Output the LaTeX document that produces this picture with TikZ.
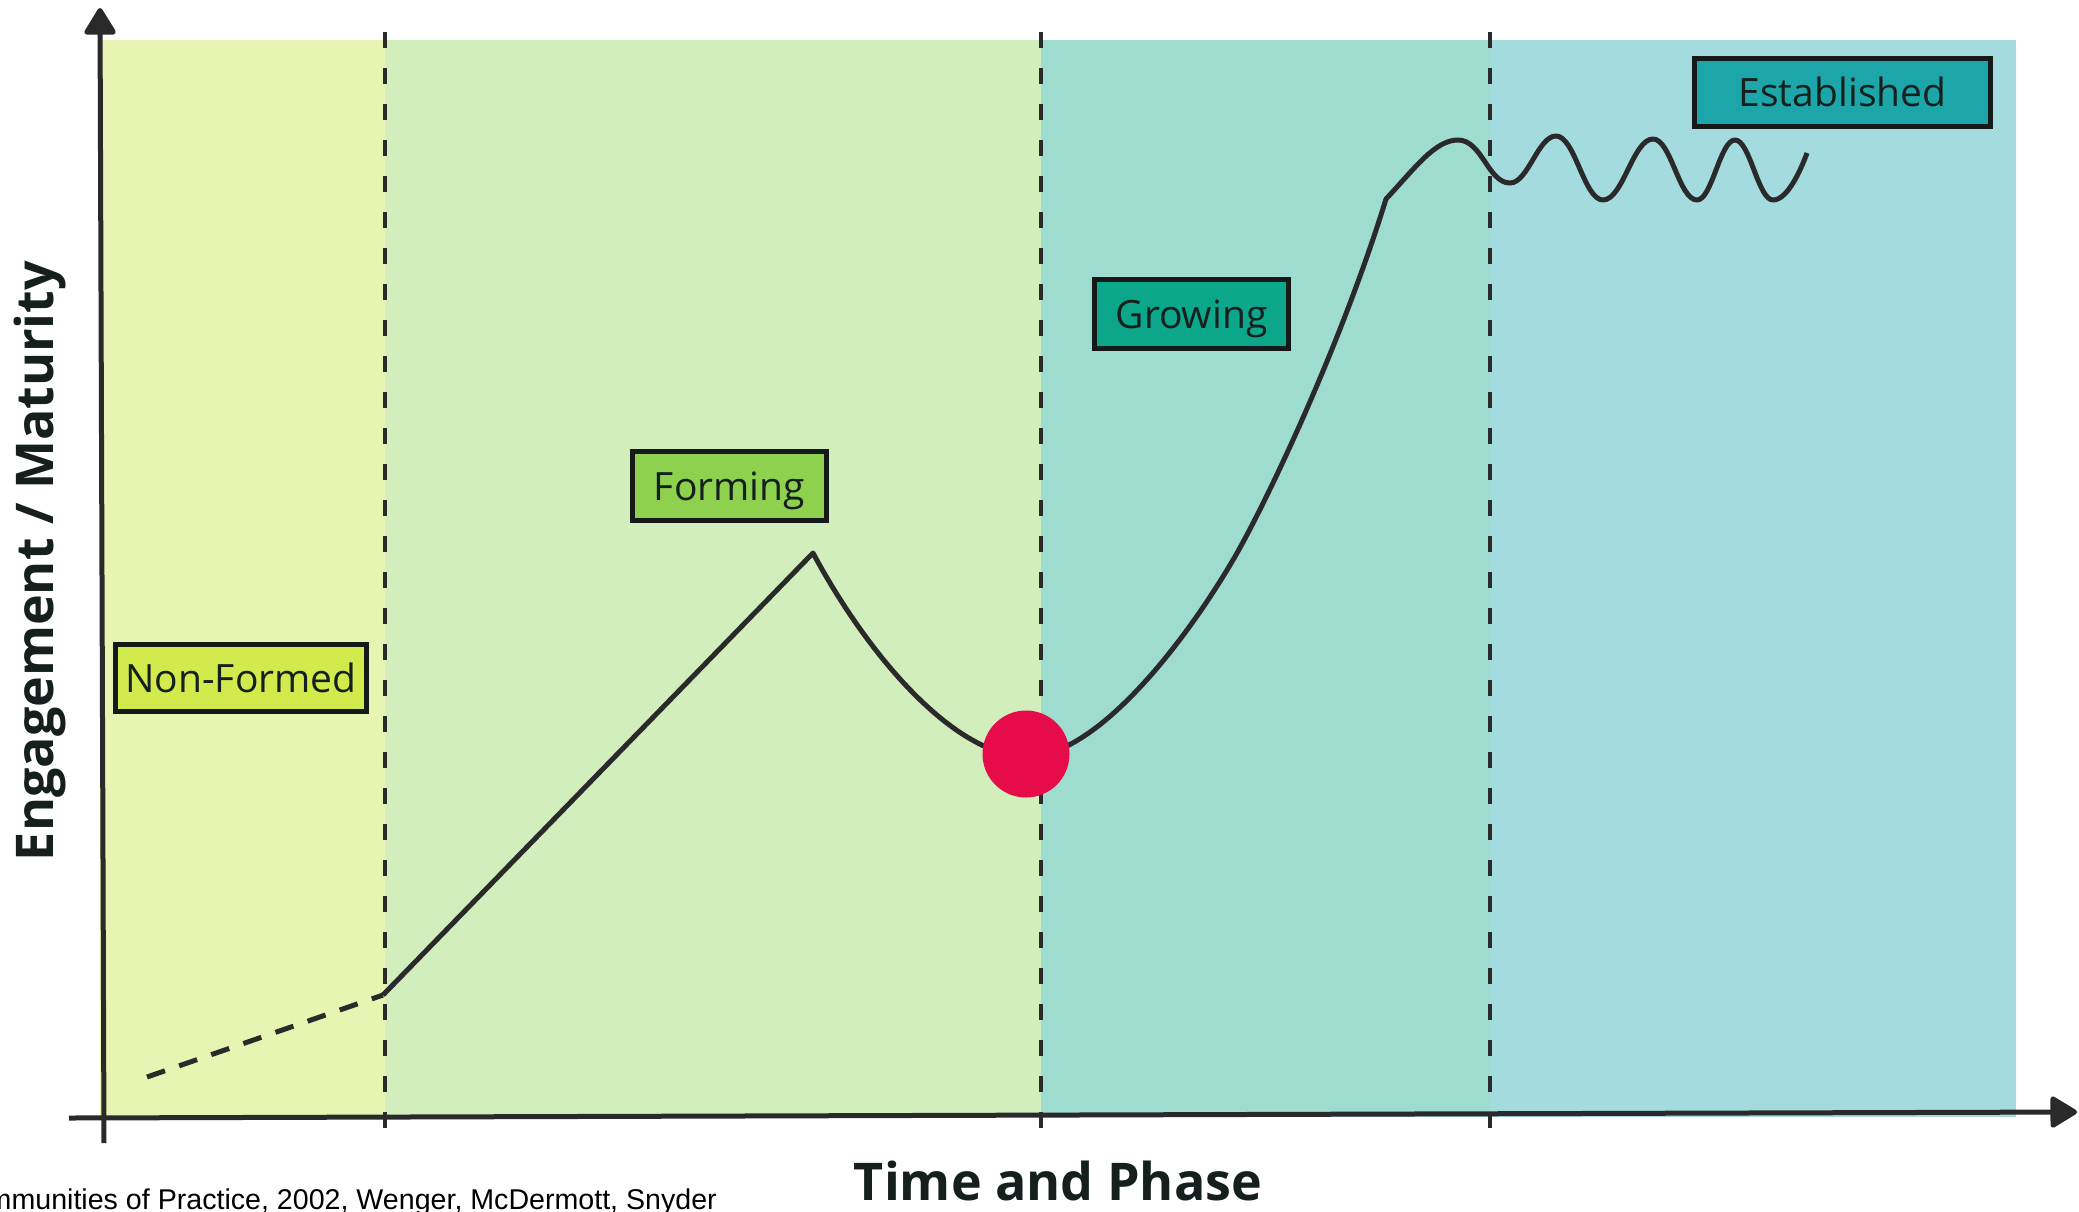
\documentclass[tikz,border=0pt]{standalone}
\usepackage{fontspec}
\setmainfont{Open Sans}
\newfontfamily\citefont{Liberation Sans}
\usetikzlibrary{arrows.meta}
\definecolor{bandA}{HTML}{E8F5B2}
\definecolor{bandB}{HTML}{D3EEBD}
\definecolor{bandC}{HTML}{9EDCD0}
\definecolor{bandD}{HTML}{A3DBDF}
\definecolor{fillNF}{HTML}{D2EA4C}
\definecolor{fillFO}{HTML}{8ED14F}
\definecolor{fillGR}{HTML}{0CA78A}
\definecolor{fillES}{HTML}{1CA6AA}
\definecolor{dotred}{HTML}{E60C4A}
\definecolor{linec}{HTML}{2A2A2A}
\definecolor{boxline}{HTML}{151A18}
\definecolor{textc}{HTML}{15201E}
\begin{document}
\begin{tikzpicture}[x=1pt,y=-1pt,
  axisline/.style={line width=5pt, draw=linec, -{Triangle[width=34pt,length=29pt,round]}},
  phaseline/.style={line width=4.5pt, draw=linec, dash pattern=on 16pt off 20pt},
  curveline/.style={line width=5pt, draw=linec, line join=round},
  phasebox/.style={draw=boxline, line width=4.5pt, inner sep=0pt,
    font=\fontsize{39}{44}\selectfont, text=textc, text height=28pt, text depth=0pt},
  axislabel/.style={font=\bfseries\fontsize{52}{60}\selectfont, text=textc, inner sep=0pt}]
\useasboundingbox (0,0) rectangle (2079,1211);
\fill[white] (0,0) rectangle (2079,1211);
% phase bands
\fill[bandA] (100,40) rectangle (385,1117);
\fill[bandB] (385,40) rectangle (1041,1117);
\fill[bandC] (1041,40) rectangle (1490,1117);
\fill[bandD] (1490,40) rectangle (2016,1117);
% phase boundaries
\draw[phaseline] (385,32) -- (385,1143);
\draw[phaseline] (1041,32) -- (1041,1143);
\draw[phaseline] (1490,32) -- (1490,1143);
% axes
\coordinate (xo) at (69,1118);
\coordinate (xe) at (2077,1112);
\coordinate (yo) at (104,1143);
\coordinate (ye) at (100,8);
\draw[axisline] (xo) -- (xe);
\draw[axisline] (yo) -- (ye);
% curve
\draw[curveline, dash pattern=on 19pt off 15pt] (147,1077) -- (383,995);
\draw[curveline] (383,995) -- (813,553)
  .. controls (865,650) and (950,754) .. (1026,757)
  .. controls (1096,757) and (1183,645) .. (1233,560)
  .. controls (1263,509) and (1339,351) .. (1386,199)
  .. controls (1415,168) and (1435,140) .. (1458,140)
  .. controls (1482,140) and (1488,183) .. (1510,183)
  .. controls (1528,183) and (1538,136) .. (1556,136)
  .. controls (1575,136) and (1584,200) .. (1603,200)
  .. controls (1623,200) and (1633,139) .. (1653,139)
  .. controls (1671,139) and (1679,200) .. (1697,200)
  .. controls (1712,200) and (1720,140) .. (1735,140)
  .. controls (1750,140) and (1758,200) .. (1773,200)
  .. controls (1787,200) and (1800,172) .. (1807,153);
\node[circle, fill=dotred, minimum size=87pt, inner sep=0pt] (dot) at (1026,754) {};
% phase labels
\node[phasebox, fill=fillNF, minimum width=251pt, minimum height=67pt] (nf) at (241,678) {Non-Formed};
\node[phasebox, fill=fillFO, minimum width=194pt, minimum height=69pt] (fo) at (729.5,486) {Forming};
\node[phasebox, fill=fillGR, minimum width=194pt, minimum height=69pt] (gr) at (1191.5,314) {Growing};
\node[phasebox, fill=fillES, minimum width=296pt, minimum height=68pt] (es) at (1842.5,92.5) {Established};
% axis labels
\node[axislabel, anchor=base] (xl) at (1058,1200) {Time and Phase};
\node[axislabel, anchor=base, rotate=90] (yl) at (53,561) {Engagement / Maturity};
\node[anchor=base east, inner sep=0pt, font=\citefont\fontsize{28.6}{30}\selectfont, text=black] (cite) at (717,1209) {Communities of Practice, 2002, Wenger, McDermott, Snyder};
\end{tikzpicture}
\end{document}
